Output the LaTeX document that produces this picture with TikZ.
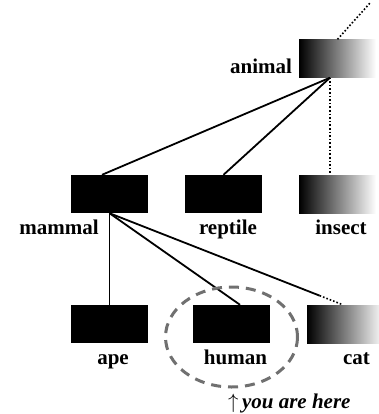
\documentclass[tikz,border=0pt]{standalone}
\usepackage{fontspec}
\setmainfont{Liberation Serif}
\usetikzlibrary{calc}
\definecolor{ringgray}{RGB}{112,112,112}
\begin{document}
\begin{tikzpicture}[x=1pt, y=-1pt,
    box/.style={fill=black, minimum width=77pt, minimum height=38pt, inner sep=0pt},
    fadebox/.style={minimum width=77pt, minimum height=38pt, inner sep=0pt, left color=black, right color=white},
    kind/.style={font=\fontsize{21}{25}\selectfont\bfseries, anchor=base, inner sep=0pt},
    edge/.style={line width=1.8pt},
    fade/.style={line width=1.6pt, dotted}]
    \useasboundingbox (0,0) rectangle (379,414);

    \node[fadebox] (animal) at (337.5,58.5) {};
    \node[box] (mammal) at (109.5,194) {};
    \node[box] (reptile) at (223.5,194) {};
    \node[fadebox] (insect) at (337.5,194) {};
    \node[box] (ape) at (109.5,324) {};
    \node[box] (human) at (231.5,324) {};
    \node[fadebox] (cat) at (345.5,324) {};
    \coordinate (top) at (370,3);

    \node[kind] (animal-name) at (261,74) {animal};
    \node[kind] (mammal-name) at (59,234) {mammal};
    \node[kind] (reptile-name) at (228,234) {reptile};
    \node[kind] (insect-name) at (341,234) {insect};
    \node[kind] (ape-name) at (113,364) {ape};
    \node[kind] (human-name) at (235.5,364) {human};
    \node[kind] (cat-name) at (356.5,364) {cat};

    \draw[fade] (animal.north) -- (top);
    \draw[edge] ([xshift=-7.5pt]animal.south) -- ([xshift=-7.5pt]mammal.north);
    \draw[edge] ([xshift=-7.5pt]animal.south) -- (reptile.north);
    \draw[fade] ([xshift=-7.5pt]animal.south) -- ([xshift=-7.5pt]insect.north);
    \draw[edge] (mammal.south) -- (ape.north);
    \draw[edge] (mammal.south) -- ([xshift=8.5pt]human.north);
    \draw[edge] (mammal.south) -- ($(mammal.south)!0.9!([xshift=-2.5pt]cat.north)$);
    \draw[fade] ($(mammal.south)!0.9!([xshift=-2.5pt]cat.north)$) -- ([xshift=-2.5pt]cat.north);

    \draw[ringgray, line width=3pt, dash pattern=on 10pt off 7pt] ([yshift=-13pt]human.center) ellipse (66 and 50);
    \node[font=\fontsize{21}{25}\selectfont\bfseries\itshape, anchor=base west, inner sep=0pt] (here) at (228,408) {$\uparrow$\,you are here};
\end{tikzpicture}
\end{document}
